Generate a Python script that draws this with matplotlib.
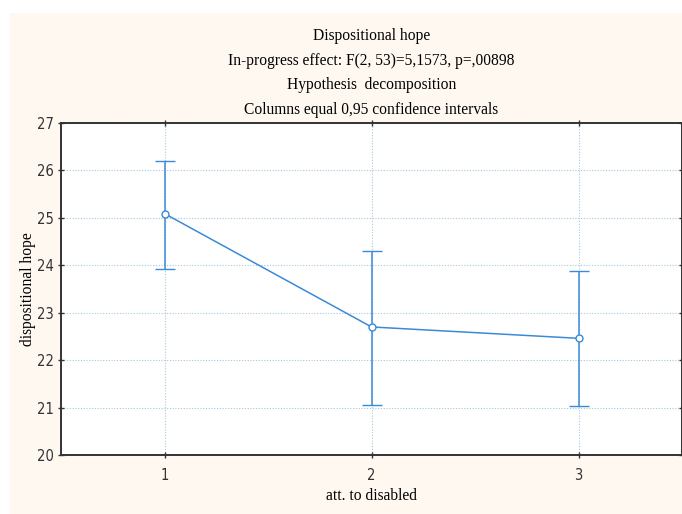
import matplotlib
matplotlib.use("Agg")
import matplotlib.pyplot as plt
from matplotlib.patches import Rectangle

# Data (means and 0.95 CI bounds)
groups = [1, 2, 3]
means = [25.09, 22.70, 22.46]
ci_low = [23.92, 21.06, 21.04]
ci_high = [26.20, 24.30, 23.89]

title_lines = [
    "Dispositional hope",
    "In-progress effect: F(2, 53)=5,1573, p=,00898",
    "Hypothesis  decomposition",
    "Columns equal 0,95 confidence intervals",
]

blue = "#3a8ad8"
serif = ["Liberation Serif", "DejaVu Serif"]

fig = plt.figure(figsize=(6.82, 5.14), dpi=100)
fig.patch.set_facecolor("white")

# cream panel behind the plot, like the Statistica export
fig.patches.append(Rectangle((10 / 682, 0), 1 - 10 / 682, 1 - 13 / 514,
                             transform=fig.transFigure, facecolor="#fef8f0",
                             edgecolor="none", zorder=-10))

ax = fig.add_axes([61 / 682, 1 - 455 / 514, 1 - 61 / 682, (455 - 123) / 514])
ax.set_facecolor("white")

yerr = [[m - lo for m, lo in zip(means, ci_low)],
        [hi - m for m, hi in zip(means, ci_high)]]
ax.errorbar(groups, means, yerr=yerr, color=blue, lw=1.1, capsize=7.5,
            capthick=1.1, elinewidth=1.1, marker="o", ms=5,
            mfc="white", mec=blue, mew=1.0, zorder=3)

ax.set_xlim(0.5, 3.5)
ax.set_ylim(20, 27)
ax.set_xticks(groups)
ax.set_yticks(range(20, 28))
ax.grid(True, ls=(0, (1, 1.5)), color="#a6c6de", lw=0.8)
ax.set_axisbelow(True)

for s in ax.spines.values():
    s.set_color("#333333")
    s.set_linewidth(1.4)

ax.tick_params(axis="both", direction="inout", length=4, width=1, color="#333333",
               top=True, right=True, labelsize=10.5, pad=3)
ax.tick_params(axis="x", pad=7)
for lab in ax.get_xticklabels() + ax.get_yticklabels():
    lab.set_family("DejaVu Sans")
    lab.set_stretch("condensed")
    lab.set_color("#333333")

ax.set_xlabel("att. to disabled", family=serif, fontsize=11.2, labelpad=4)
ax.set_ylabel("dispositional hope", family=serif, fontsize=11.2, labelpad=1)

cx = (61 + 682) / 2 / 682
for i, line in enumerate(title_lines):
    fig.text(cx, 1 - (36 + 24.7 * i) / 514, line, ha="center", va="center",
             family=serif, fontsize=11.2)

fig.savefig("out.png", dpi=100)
